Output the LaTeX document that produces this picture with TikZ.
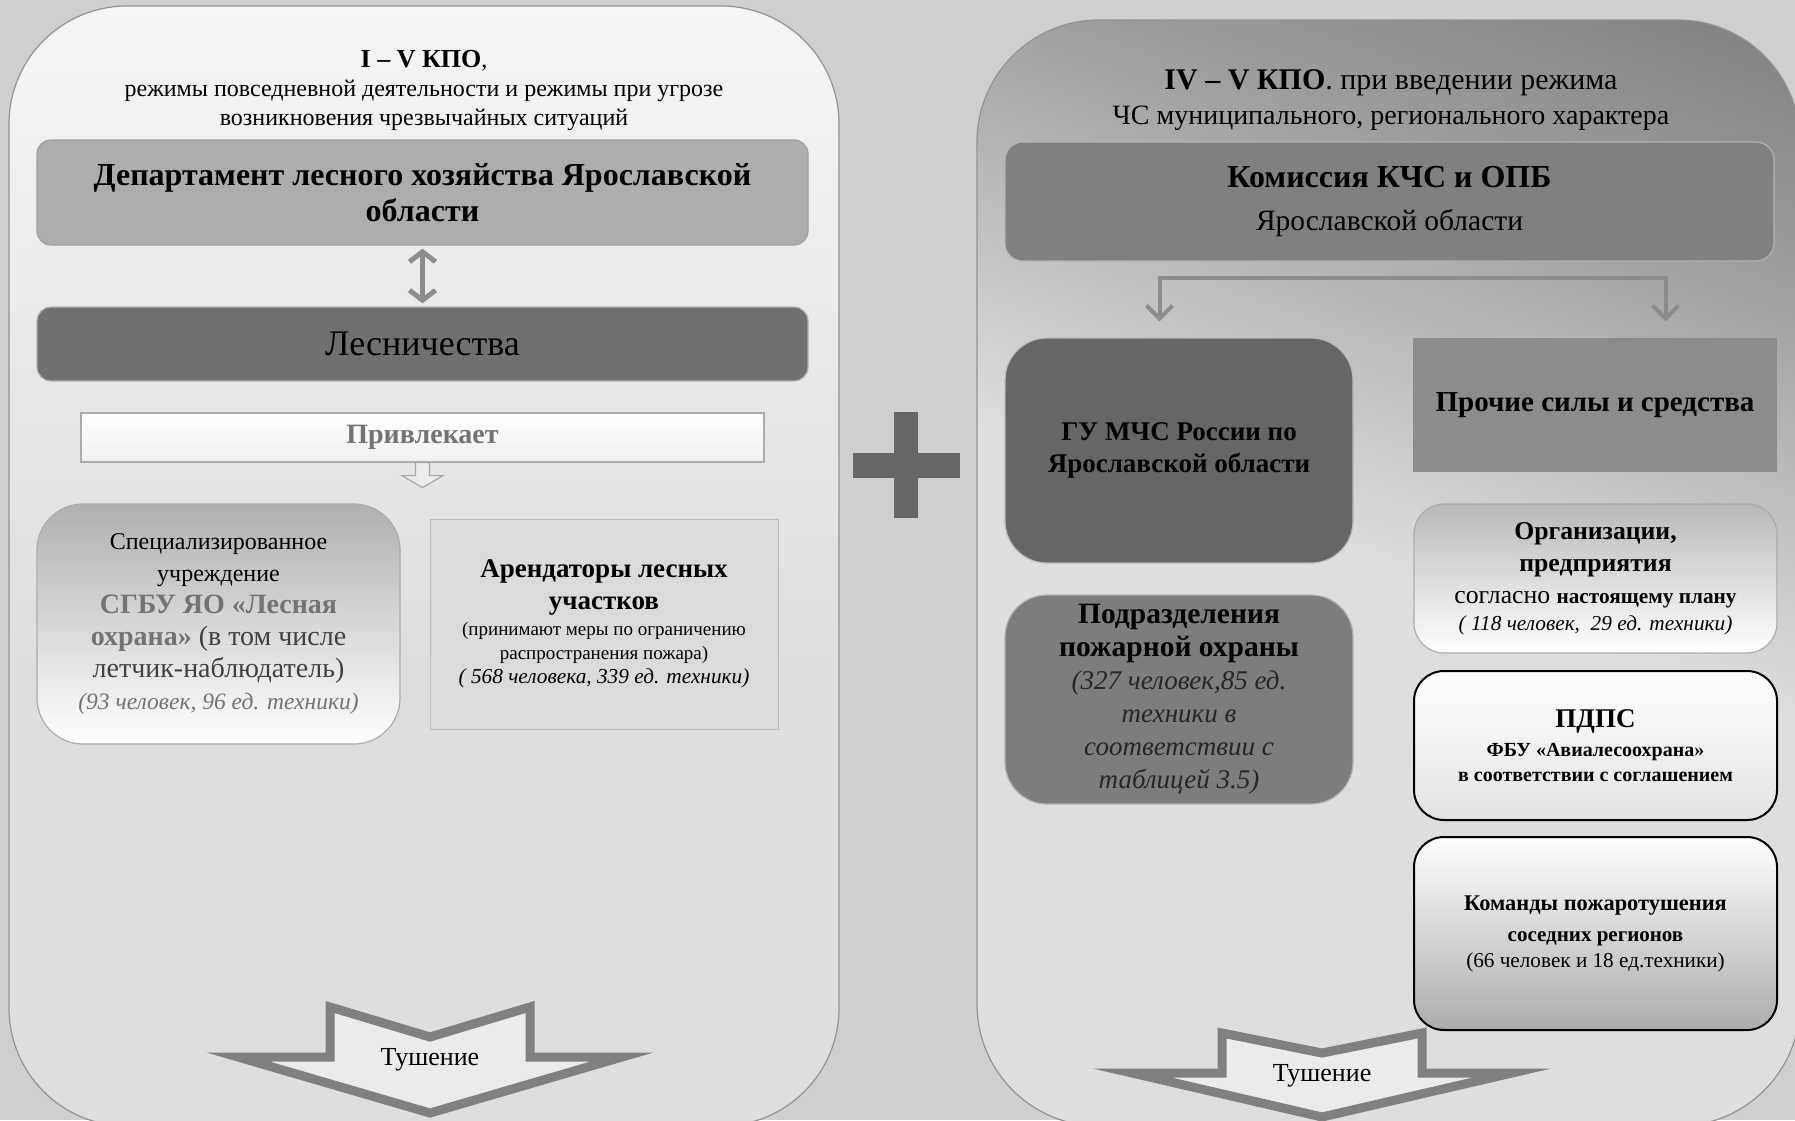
\documentclass[tikz,border=0pt]{standalone}
\usepackage{fontspec}
\setmainfont{Liberation Serif}
\usetikzlibrary{arrows.meta,positioning,calc}

\definecolor{bggray}{gray}{0.81}
\definecolor{panelbot}{gray}{0.87}
\definecolor{paneltop}{gray}{0.47}
\definecolor{panelmid}{gray}{0.62}
\definecolor{deptgray}{gray}{0.68}
\definecolor{lesngray}{gray}{0.44}
\definecolor{gugray}{gray}{0.40}
\definecolor{podrgray}{gray}{0.49}
\definecolor{prochgray}{gray}{0.55}
\definecolor{kchsgray}{gray}{0.50}
\definecolor{linegray}{gray}{0.55}
\definecolor{textgray}{gray}{0.45}
\definecolor{rentgray}{gray}{0.86}
\definecolor{plusgray}{gray}{0.40}

\pgfdeclareverticalshading{lpanel}{100bp}{color(0bp)=(panelbot); color(45bp)=(panelbot); color(88bp)=(white); color(100bp)=(white)}
\pgfdeclareverticalshading{rpanel}{100bp}{color(0bp)=(panelbot); color(50bp)=(panelbot); color(70bp)=(panelmid); color(85bp)=(paneltop); color(100bp)=(paneltop)}

\newcommand\setfs[2]{\fontsize{#1}{#2}\selectfont}

\begin{document}
\begin{tikzpicture}[x=1pt,y=-1pt,
  panel/.style={draw=gray!85, line width=1.2pt},
  box/.style={align=center, inner sep=0pt, line width=1.2pt},
  dblarrow/.style={draw=linegray, line width=5pt, {Straight Barb[length=10pt,width=26pt]}-{Straight Barb[length=10pt,width=26pt]}, shorten <=3pt, shorten >=3pt},
  linkarrow/.style={draw=linegray, line width=4pt, {Straight Barb[length=13pt,width=26pt]}-{Straight Barb[length=13pt,width=26pt]}},
  smallarrow/.style={draw=gray!70, fill=gray!15, line width=1.2pt},
  bigarrow/.style={draw=gray, fill=panelbot!60!white, line width=9pt, line join=miter},
  tush/.style={font=\setfs{26}{30}}]
  \useasboundingbox (0,0) rectangle (1795,1120);
  \clip (0,0) rectangle (1795,1120);
  \fill[bggray] (0,0) rectangle (1795,1120); % background

  % panels
  \shade[panel, shading=lpanel, rounded corners=118pt] (9,6) rectangle (839,1126);
  \shade[panel, shading=rpanel, shading angle=-20, rounded corners=122pt] (977,20) rectangle (1800,1126);

  % headers
  \node[align=center, font=\setfs{24}{29}] (hdrL) at (424,90)
    {{\bfseries\setfs{26}{29}I – V КПО},\\режимы повседневной деятельности и режимы при угрозе\\возникновения чрезвычайных ситуаций};
  \node[align=center, font=\setfs{28}{35}] (hdrR) at (1391,100)
    {{\setfs{30}{35}\bfseries IV – V КПО}{\setfs{30}{35}. при введении режима}\\ЧС муниципального, регионального характера};

  % left column
  \node[box, rounded corners=14pt, fill=deptgray, draw=gray!75, minimum width=771pt, minimum height=105pt, font=\setfs{32}{36}\bfseries] (dept) at (422.5,192.5)
    {Департамент лесного хозяйства Ярославской\\области};
  \node[box, rounded corners=14pt, fill=lesngray, draw=gray!60, minimum width=771pt, minimum height=74pt, font=\setfs{36}{40}] (lesn) at (422.5,344)
    {Лесничества};
  \node[box, top color=white, bottom color=gray!12, draw=gray!65, minimum width=683pt, minimum height=49pt, font=\setfs{28}{30}\bfseries, text=textgray] (privl) at (422.5,437.5)
    {Привлекает};
  \node[box, rounded corners=46pt, top color=gray!62, middle color=white, bottom color=white, draw=gray!65, minimum width=363pt, minimum height=240pt, font=\setfs{24}{32}] (spec) at (218.5,624)
    {Специализированное\\учреждение\\{\bfseries\color{textgray}\setfs{28}{32}СГБУ ЯО «Лесная}\\{\bfseries\color{textgray}\setfs{28}{32}охрана»}{\color{black!75}\setfs{28}{32} (в том числе}\\{\color{black!75}\setfs{28}{32}летчик-наблюдатель)}\\{\itshape\color{textgray}\setfs{23.5}{32}(93 человек, 96 ед. техники)}};
  \node[box, fill=rentgray, draw=gray!55, line width=0.8pt, minimum width=348pt, minimum height=210pt, font=\setfs{19}{24}] (arend) at (604,624)
    {{\bfseries\setfs{27}{24}Арендаторы лесных}\\[8pt]{\bfseries\setfs{27}{24}участков}\\[2pt](принимают меры по ограничению\\распространения пожара)\\{\itshape\setfs{21.3}{24}( 568 человека, 339 ед. техники)}};

  % right column
  \node[box, rounded corners=18pt, fill=kchsgray, draw=gray!60, minimum width=769pt, minimum height=119pt, font=\setfs{29.5}{43}] (kchs) at (1389.5,201.5)
    {{\bfseries\setfs{32}{43}Комиссия КЧС и ОПБ}\\Ярославской области};
  \node[box, rounded corners=42pt, fill=gugray, draw=gray!55, minimum width=348pt, minimum height=225pt, font=\setfs{27}{32}\bfseries] (gu) at (1179,450.5)
    {ГУ МЧС России по\\Ярославской области};
  \node[box, rounded corners=42pt, fill=podrgray, draw=gray!60, minimum width=348pt, minimum height=209pt, font=\setfs{27}{33}] (podr) at (1179,699.5)
    {{\bfseries\setfs{29.5}{33}Подразделения}\\{\bfseries\setfs{29.5}{33}пожарной охраны}\\{\itshape\color{black!85}(327 человек,85 ед.}\\{\itshape\color{black!85}техники в}\\{\itshape\color{black!85}соответствии с}\\{\itshape\color{black!85}таблицей 3.5)}};
  \node[box, fill=prochgray, minimum width=364pt, minimum height=134pt, font=\setfs{29}{32}\bfseries] (proch) at (1595,405)
    {Прочие силы и средства};
  \node[box, rounded corners=30pt, top color=gray!55, middle color=white, bottom color=white, draw=gray!65, minimum width=363pt, minimum height=149pt, font=\setfs{25.7}{32}] (org) at (1595.5,578.5)
    {{\bfseries\setfs{25.7}{32}Организации,}\\{\bfseries\setfs{25.7}{32}предприятия}\\согласно {\bfseries\setfs{21.3}{32}настоящему плану}\\[-5pt]{\itshape\setfs{21.3}{32}( 118 человек,~ 29 ед. техники)}};
  \node[box, rounded corners=30pt, top color=white, bottom color=gray!22, draw=black, line width=2pt, minimum width=363pt, minimum height=149pt, font=\setfs{20}{25}\bfseries] (pdps) at (1595.5,745.5)
    {{\setfs{27}{25}ПДПС}\\[4pt]ФБУ «Авиалесоохрана»\\в соответствии с соглашением};
  \node[box, rounded corners=30pt, top color=white, middle color=white, bottom color=gray!65, draw=black, line width=2pt, minimum width=363pt, minimum height=193pt, font=\setfs{21.2}{26}] (kom) at (1595.5,933.5)
    {{\bfseries\setfs{22.4}{26}Команды пожаротушения}\\[5pt]{\bfseries\setfs{21}{26}соседних регионов}\\(66 человек и 18 ед.техники)};

  % connectors
  \draw[dblarrow] (dept.south) -- (lesn.north);
  \draw[smallarrow] ([xshift=-7pt]privl.south) -- ++(0,13) -- ++(-13.5,0) -- ++(20.5,12) -- ++(20.5,-12) -- ++(-13.5,0) -- ++(0,-13) -- cycle;
  \coordinate (barL) at ([shift={(-230,16)}]kchs.south);
  \coordinate (barR) at ([shift={(276,16)}]kchs.south);
  \draw[linkarrow, shorten <=16pt, shorten >=16pt] (barL |- gu.north) |- (barR) -- (barR |- proch.north);

  % plus sign
  \fill[plusgray] (894,412) rectangle (918,518);
  \fill[plusgray] (853,453) rectangle (960,478);

  % big arrows
  \foreach \x/\y/\h/\t/\w in {430/1060/53/53/192, 1322/1076/43/41/190}{
    \draw[bigarrow] (\x-100,\y-\h) -- (\x,\y-23) -- (\x+100,\y-\h) -- (\x+100,\y-3) -- (\x+\w,\y-3)
      -- (\x,\y+\t) -- (\x-\w,\y-3) -- (\x-100,\y-3) -- cycle;
  }
  \node[tush] (tushL) at (430,1060) {Тушение};
  \node[tush] (tushR) at (1322,1076) {Тушение};
\end{tikzpicture}
\end{document}
